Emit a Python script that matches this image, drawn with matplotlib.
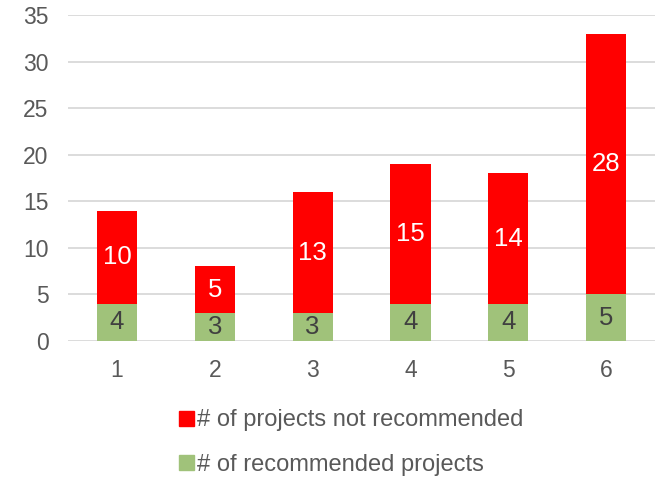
import matplotlib
matplotlib.use("Agg")
import matplotlib.pyplot as plt
from matplotlib.patches import Patch

categories = ["1", "2", "3", "4", "5", "6"]
recommended = [4, 3, 3, 4, 4, 5]
not_recommended = [10, 5, 13, 15, 14, 28]
series_names = ["# of projects not recommended", "# of recommended projects"]
yticks = [0, 5, 10, 15, 20, 25, 30, 35]

RED = "#FF0000"
GREEN = "#A0C27A"
GRAY = "#595959"

plt.rcParams['font.family'] = ['Liberation Sans', 'DejaVu Sans']

fig = plt.figure(figsize=(6.63, 4.78), dpi=100)
ax = fig.add_axes([0.1026, 0.2866, 0.8854, 0.682])

x = list(range(1, len(categories) + 1))
w = 0.41
ax.bar(x, recommended, width=w, color=GREEN, zorder=3)
ax.bar(x, not_recommended, width=w, bottom=recommended, color=RED, zorder=3)

for xi, r, n in zip(x, recommended, not_recommended):
    ax.text(xi, r / 2, str(r), ha="center", va="center", fontsize=18.5, color="#404040", zorder=4)
    ax.text(xi, r + n / 2, str(n), ha="center", va="center", fontsize=18.5, color="white", zorder=4)

ax.set_xlim(0.5, 6.5)
ax.set_ylim(0, 35)
ax.set_yticks(yticks)
ax.set_xticks(x)
ax.set_xticklabels(categories)
ax.tick_params(axis="both", length=0, labelsize=16.5, colors=GRAY)
ax.tick_params(axis="y", pad=14)
ax.tick_params(axis="x", pad=13)
ax.grid(axis="y", color="#D9D9D9", linewidth=1.3, zorder=0)
for s in ["top", "right", "left", "bottom"]:
    ax.spines[s].set_visible(False)

handles = [Patch(color=RED), Patch(color=GREEN)]
fig.legend(handles, series_names, loc="center", bbox_to_anchor=(0.53, 0.074),
           ncol=1, frameon=False, fontsize=17, handlelength=0.6, handleheight=0.6,
           handletextpad=0.15, labelspacing=0.95, labelcolor=GRAY)

fig.savefig("out.png", dpi=100)
